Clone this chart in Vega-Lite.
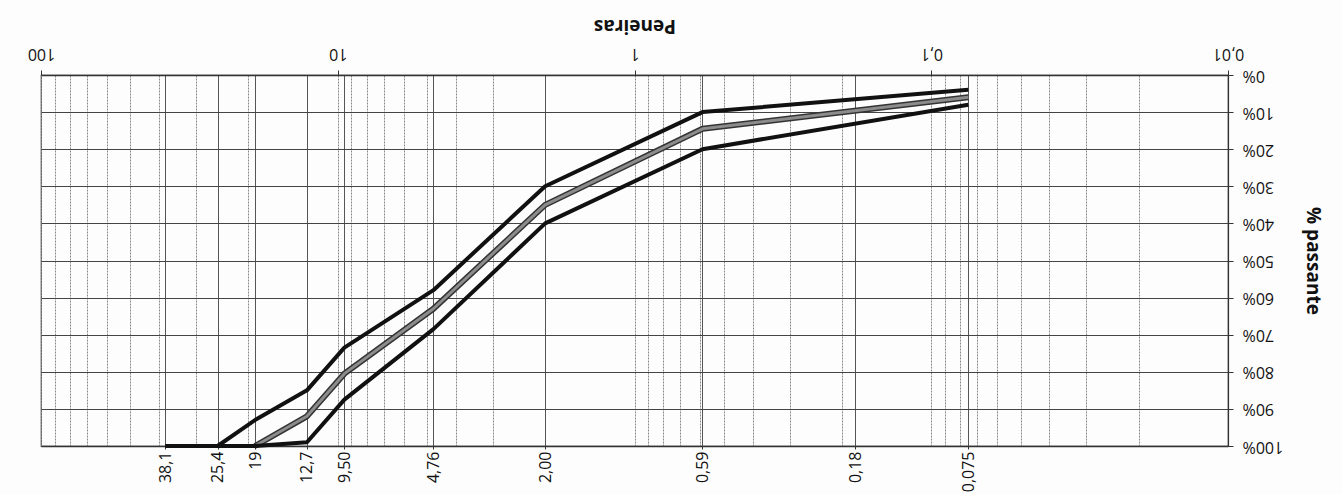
{
  "$schema": "https://vega.github.io/schema/vega-lite/v6.json",
  "autosize": {"type": "none"},
  "padding": {"left": 41, "top": 75, "right": 114, "bottom": 48},
  "width": 1187,
  "height": 371,
  "background": "#fdfdfd",
  "config": {
    "view": {"stroke": "#333", "strokeWidth": 1.2},
    "axis": {"labelFont": "Open Sans", "titleFont": "Open Sans", "labelColor": "#111", "titleColor": "#111", "domainColor": "#333", "tickColor": "#333"}
  },
  "data": {
    "values": [
      {"serie": "Superior", "abertura": 38.1, "passante": 100},
      {"serie": "Superior", "abertura": 25.4, "passante": 100},
      {"serie": "Superior", "abertura": 19, "passante": 93},
      {"serie": "Superior", "abertura": 12.7, "passante": 85},
      {"serie": "Superior", "abertura": 9.5, "passante": 73.5},
      {"serie": "Superior", "abertura": 4.76, "passante": 58},
      {"serie": "Superior", "abertura": 2.0, "passante": 30},
      {"serie": "Superior", "abertura": 0.59, "passante": 10},
      {"serie": "Superior", "abertura": 0.075, "passante": 4},
      {"serie": "Inferior", "abertura": 38.1, "passante": 100},
      {"serie": "Inferior", "abertura": 25.4, "passante": 100},
      {"serie": "Inferior", "abertura": 19, "passante": 100},
      {"serie": "Inferior", "abertura": 12.7, "passante": 99},
      {"serie": "Inferior", "abertura": 9.5, "passante": 87.5},
      {"serie": "Inferior", "abertura": 4.76, "passante": 68.5},
      {"serie": "Inferior", "abertura": 2.0, "passante": 40},
      {"serie": "Inferior", "abertura": 0.59, "passante": 20},
      {"serie": "Inferior", "abertura": 0.075, "passante": 8},
      {"serie": "Projeto", "abertura": 19, "passante": 100},
      {"serie": "Projeto", "abertura": 12.7, "passante": 92},
      {"serie": "Projeto", "abertura": 9.5, "passante": 80.5},
      {"serie": "Projeto", "abertura": 4.76, "passante": 63},
      {"serie": "Projeto", "abertura": 2.0, "passante": 35},
      {"serie": "Projeto", "abertura": 0.59, "passante": 14.5},
      {"serie": "Projeto", "abertura": 0.075, "passante": 6}
    ]
  },
  "resolve": {"axis": {"x": "independent", "y": "independent"}},
  "layer": [
    {
      "transform": [{"filter": "datum.serie == 'Projeto'"}],
      "mark": {"type": "line", "color": "#333", "strokeWidth": 6, "strokeJoin": "round"},
      "encoding": {
        "x": {
          "field": "abertura", "type": "quantitative",
          "scale": {"type": "log", "domain": [0.01, 100], "reverse": true, "nice": false},
          "axis": {
            "orient": "top",
            "title": "Peneiras",
            "titleAngle": 180,
            "titleFontSize": 19,
            "titleFontWeight": "bold",
            "titlePadding": 30,
            "values": [0.01, 0.02, 0.03, 0.04, 0.05, 0.06, 0.07, 0.08, 0.09, 0.1, 0.2, 0.3, 0.4, 0.5, 0.6, 0.7, 0.8, 0.9, 1, 2, 3, 4, 5, 6, 7, 8, 9, 10, 20, 30, 40, 50, 60, 70, 80, 90, 100],
            "labelExpr": "datum.value == 100 ? '100' : datum.value == 10 ? '10' : datum.value == 1 ? '1' : datum.value == 0.1 ? '0,1' : datum.value == 0.01 ? '0,01' : ''",
            "labelAngle": 180,
            "labelFontSize": 16,
            "labelPadding": 9,
            "labelOverlap": false,
            "labelFlush": false,
            "tickSize": 5,
            "tickOpacity": {"condition": {"test": "indexof([0.01, 0.1, 1, 10, 100], datum.value) >= 0", "value": 1}, "value": 0},
            "grid": true,
            "gridColor": "#8a8a8a",
            "gridDash": [2, 1],
            "gridWidth": 1,
            "domainColor": "#333",
            "domainWidth": 1.5
          }
        },
        "y": {
          "field": "passante", "type": "quantitative",
          "scale": {"domain": [0, 100], "reverse": true, "nice": false},
          "axis": {
            "orient": "right",
            "title": "% passante",
            "titleAngle": 90,
            "titleFontSize": 19,
            "titleFontWeight": "bold",
            "titlePadding": 20,
            "values": [0, 10, 20, 30, 40, 50, 60, 70, 80, 90, 100],
            "labelExpr": "datum.value + '%'",
            "labelAngle": 180,
            "labelFontSize": 16,
            "labelPadding": 9,
            "tickSize": 5,
            "grid": true,
            "gridColor": "#444",
            "gridWidth": 1.2,
            "domainColor": "#333",
            "domainWidth": 1.2
          }
        }
      }
    },
    {
      "transform": [{"filter": "datum.serie == 'Projeto'"}],
      "mark": {"type": "line", "color": "#8c8c8c", "strokeWidth": 3, "strokeJoin": "round"},
      "encoding": {
        "x": {
          "field": "abertura", "type": "quantitative",
          "scale": {"type": "log", "domain": [0.01, 100], "reverse": true, "nice": false},
          "axis": {
            "orient": "bottom",
            "title": null,
            "values": [38.1, 25.4, 19, 12.7, 9.5, 4.76, 2.0, 0.59, 0.18, 0.075],
            "labelExpr": "datum.value == 38.1 ? '38,1' : datum.value == 25.4 ? '25,4' : datum.value == 19 ? '19' : datum.value == 12.7 ? '12,7' : datum.value == 9.5 ? '9,50' : datum.value == 4.76 ? '4,76' : datum.value == 2 ? '2,00' : datum.value == 0.59 ? '0,59' : datum.value == 0.18 ? '0,18' : '0,075'",
            "labelAngle": 270,
            "labelFontSize": 16,
            "labelPadding": 2,
            "labelOverlap": false,
            "labelFlush": false,
            "tickSize": 3,
            "grid": true,
            "gridColor": "#555",
            "gridWidth": 1,
            "domainColor": "#333",
            "domainWidth": 1.5
          }
        },
        "y": {"field": "passante", "type": "quantitative", "axis": null}
      }
    },
    {
      "transform": [{"filter": "datum.serie != 'Projeto'"}],
      "mark": {"type": "line", "color": "#111", "strokeWidth": 4, "strokeJoin": "round"},
      "encoding": {
        "x": {"field": "abertura", "type": "quantitative", "axis": null},
        "y": {"field": "passante", "type": "quantitative", "axis": null},
        "detail": {"field": "serie"}
      }
    }
  ]
}
